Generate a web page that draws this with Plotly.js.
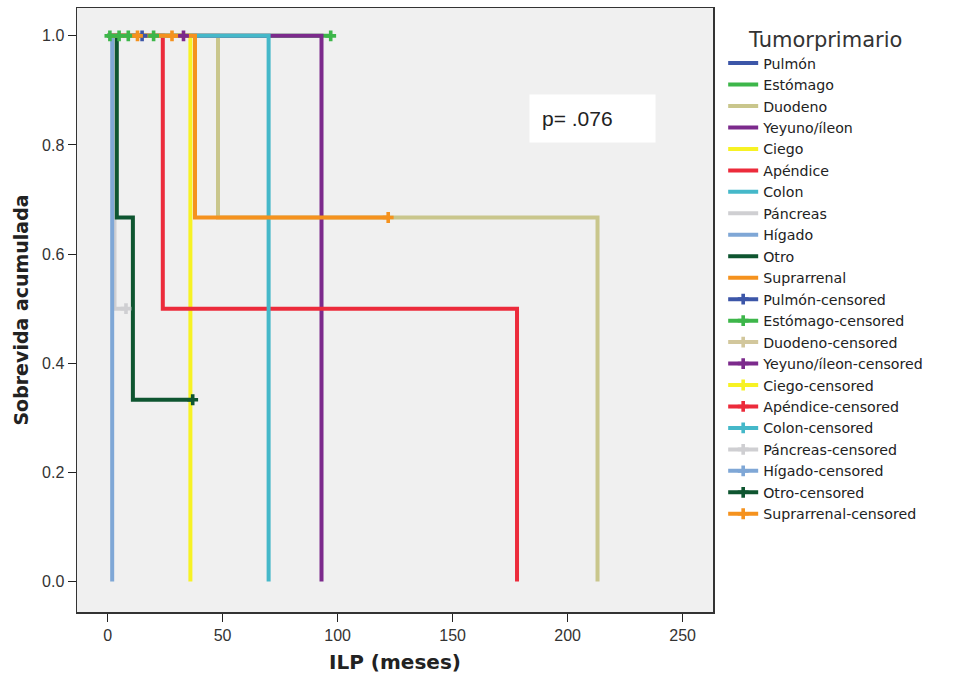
<!DOCTYPE html>
<html>
<head>
<meta charset="utf-8">
<script src="https://cdn.plot.ly/plotly-3.0.1.min.js"></script>
<style>html,body{margin:0;padding:0;background:#fff;}#chart{width:954px;height:689px;}</style>
</head>
<body>
<div id="chart"></div>
<script>
// Group names (legend order)
const groups = ['Pulmón','Estómago','Duodeno','Yeyuno/íleon','Ciego','Apéndice','Colon','Páncreas','Hígado','Otro','Suprarrenal'];

// Kaplan-Meier step curves: times (meses) and cumulative survival
const pulmonT = [0, 15];          const pulmonS = [1, 1];
const estomagoT = [0, 97];        const estomagoS = [1, 1];
const duodenoT = [0, 48, 213];    const duodenoS = [1, 0.667, 0];
const yeyunoT = [0, 93];          const yeyunoS = [1, 0];
const ciegoT = [0, 36];           const ciegoS = [1, 0];
const apendiceT = [0, 24, 178];   const apendiceS = [1, 0.5, 0];
const colonT = [0, 70];           const colonS = [1, 0];
const pancreasT = [0, 3, 8];      const pancreasS = [1, 0.5, 0.5];
const higadoT = [0, 2];           const higadoS = [1, 0];
const otroT = [0, 4, 11, 37];     const otroS = [1, 0.667, 0.333, 0.333];
const suprarrenalT = [0, 38, 122];const suprarrenalS = [1, 0.667, 0.667];

// Censored observations
const pulmonCT = [15];            const pulmonCS = [1];
const estomagoCT = [1, 5, 9, 20, 97]; const estomagoCS = [1, 1, 1, 1, 1];
const duodenoCT = [];             const duodenoCS = [];
const yeyunoCT = [33];            const yeyunoCS = [1];
const ciegoCT = [];               const ciegoCS = [];
const apendiceCT = [];            const apendiceCS = [];
const colonCT = [];               const colonCS = [];
const pancreasCT = [8];           const pancreasCS = [0.5];
const higadoCT = [];              const higadoCS = [];
const otroCT = [37];              const otroCS = [0.333];
const suprarrenalCT = [13, 28, 122]; const suprarrenalCS = [1, 1, 0.667];

const xTicks = [0, 50, 100, 150, 200, 250];
const yTicks = [0, 0.2, 0.4, 0.6, 0.8, 1.0];
const yTickLabels = ['0.0', '0.2', '0.4', '0.6', '0.8', '1.0'];
const pValueText = 'p= .076';

const colors = ['#3c56a8','#3db64a','#d2c79c','#7c2a8c','#f7f224','#ec2b3b','#45b8c9','#cfcfd2','#7fa7d6','#0e5530','#f5921e'];
const lineColors = ['#3c56a8','#3db64a','#c9c68c','#7c2a8c','#f7f224','#ec2b3b','#45b8c9','#cfcfd2','#7fa7d6','#0e5530','#f5921e'];

const curves = [
  [pulmonT, pulmonS], [estomagoT, estomagoS], [duodenoT, duodenoS], [yeyunoT, yeyunoS],
  [ciegoT, ciegoS], [apendiceT, apendiceS], [colonT, colonS], [pancreasT, pancreasS],
  [higadoT, higadoS], [otroT, otroS], [suprarrenalT, suprarrenalS]
];
const censors = [
  [pulmonCT, pulmonCS], [estomagoCT, estomagoCS], [duodenoCT, duodenoCS], [yeyunoCT, yeyunoCS],
  [ciegoCT, ciegoCS], [apendiceCT, apendiceCS], [colonCT, colonCS], [pancreasCT, pancreasCS],
  [higadoCT, higadoCS], [otroCT, otroCS], [suprarrenalCT, suprarrenalCS]
];

const traces = [];
groups.forEach((g, i) => {
  traces.push({
    type: 'scatter', mode: 'lines', name: g,
    x: curves[i][0], y: curves[i][1],
    line: {shape: 'hv', color: lineColors[i], width: 4},
    hoverinfo: 'skip'
  });
});
groups.forEach((g, i) => {
  const cx = [], cy = [];
  censors[i][0].forEach((t, k) => { if (k > 0) { cx.push(null); cy.push(null); } cx.push(t); cy.push(censors[i][1][k]); });
  if (cx.length === 0) { cx.push(null); cy.push(null); }
  traces.push({
    type: 'scatter', mode: 'lines+markers', name: g + '-censored',
    x: cx, y: cy, connectgaps: false,
    line: {color: colors[i], width: 4},
    marker: {symbol: 'cross', size: 9, color: colors[i]},
    hoverinfo: 'skip'
  });
});

const layout = {
  width: 954, height: 689,
  margin: {l: 77, r: 241, t: 8, b: 77},
  paper_bgcolor: '#ffffff',
  plot_bgcolor: '#f0f0f0',
  font: {family: 'Liberation Sans, Arial, sans-serif', color: '#222'},
  showlegend: true,
  legend: {
    x: 1.016, y: 0.98, xanchor: 'left', yanchor: 'top',
    font: {size: 14.2, color: '#222', family: 'DejaVu Sans, sans-serif'},
    title: {text: 'Tumorprimario', side: 'top center', font: {size: 21, color: '#333', family: 'DejaVu Sans, sans-serif'}},
    tracegroupgap: 0, itemwidth: 30, bgcolor: 'rgba(0,0,0,0)'
  },
  xaxis: {
    range: [-13.3, 263.2], tickvals: xTicks, ticks: 'outside', ticklen: 8, tickcolor: '#222',
    showline: true, linecolor: '#333', linewidth: 1.5, mirror: true,
    showgrid: false, zeroline: false,
    tickfont: {size: 16, color: '#333'},
    title: {text: 'ILP (meses)', font: {size: 20, color: '#222', weight: 'bold', family: 'DejaVu Sans, sans-serif'}, standoff: 12}
  },
  yaxis: {
    range: [-0.056, 1.051], tickvals: yTicks, ticktext: yTickLabels, ticks: 'outside', ticklen: 8, tickcolor: '#222',
    showline: true, linecolor: '#333', linewidth: 1.5, mirror: true,
    showgrid: false, zeroline: false,
    tickfont: {size: 16, color: '#333'},
    title: {text: 'Sobrevida acumulada', font: {size: 19, color: '#222', weight: 'bold', family: 'DejaVu Sans, sans-serif'}, standoff: 8}
  },
  annotations: [{
    x: 210.6, y: 0.848, xref: 'x', yref: 'y', text: pValueText, showarrow: false,
    font: {size: 21, color: '#222'}, bgcolor: '#ffffff', width: 101, height: 23, borderpad: 12, align: 'left'
  }]
};

Plotly.newPlot('chart', traces, layout, {displayModeBar: false, staticPlot: true});
</script>
</body>
</html>
